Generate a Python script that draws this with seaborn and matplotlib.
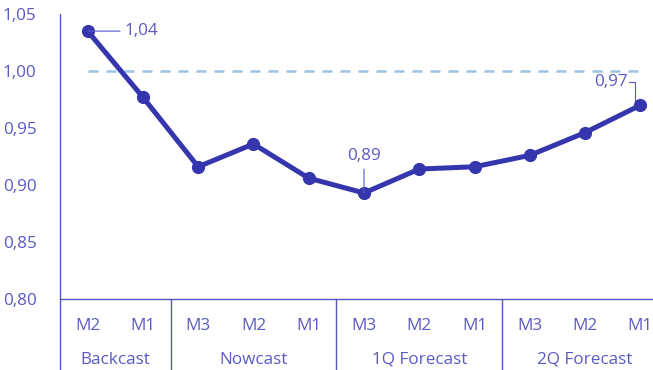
import matplotlib
matplotlib.use("Agg")
import matplotlib.pyplot as plt
import matplotlib.transforms as mtransforms
import seaborn as sns
import pandas as pd
import numpy as np

months = ["M2", "M1", "M3", "M2", "M1", "M3", "M2", "M1", "M3", "M2", "M1"]
groups = ["Backcast", "Nowcast", "1Q Forecast", "2Q Forecast"]
group_sizes = [2, 3, 3, 3]
values = [1.035, 0.977, 0.916, 0.936, 0.906, 0.893, 0.914, 0.916, 0.926, 0.946, 0.970]
yticks = [0.80, 0.85, 0.90, 0.95, 1.00, 1.05]
ytick_labels = ["0,80", "0,85", "0,90", "0,95", "1,00", "1,05"]
ref_value = 1.0

sns.set_theme(style="white")
plt.rcParams["font.family"] = ["Open Sans", "DejaVu Sans"]

line_c = "#3535AE"
text_c = "#5A5AC4"
axis_c = "#5656C0"
ref_c = "#9DC3E6"
fs = 12.3

W, H = 653, 370
fig = plt.figure(figsize=(W / 100, H / 100), dpi=100)
left_px, right_px, top_px, bot_px = 60, 668, 14, 299
ax = fig.add_axes([left_px / W, (H - bot_px) / H, (right_px - left_px) / W, (bot_px - top_px) / H])

df = pd.DataFrame({"x": np.arange(len(values)), "v": values})
sns.lineplot(data=df, x="x", y="v", ax=ax, color=line_c, lw=3.6, marker="o",
             markersize=9.5, markeredgewidth=0, zorder=3)

ax.plot([0, len(values) - 1], [ref_value, ref_value], ls=(0, (4, 3.2)), color=ref_c, lw=1.8, zorder=1)

ax.set_xlim(-0.5, len(values) - 0.5)
ax.set_ylim(0.80, 1.05)
ax.set_yticks(yticks)
ax.set_yticklabels(ytick_labels, color=text_c, fontsize=fs)
ax.tick_params(axis="y", length=0, pad=17)
ax.set_xticks([])
ax.set_xlabel("")
ax.set_ylabel("")
for s in ["top", "right", "left"]:
    ax.spines[s].set_visible(False)
ax.spines["bottom"].set_color(axis_c)
ax.spines["bottom"].set_linewidth(1.0)

trans = mtransforms.blended_transform_factory(ax.transData, fig.transFigure)
# month labels
for i, m in enumerate(months):
    ax.text(i, (H - 326) / H, m, transform=trans, ha="center", va="center",
            color=text_c, fontsize=fs)
# group labels and separators
start = 0
bounds = [-0.5]
for g, n in zip(groups, group_sizes):
    c = start + (n - 1) / 2
    ax.text(c, (H - 360) / H, g, transform=trans, ha="center", va="center",
            color=text_c, fontsize=fs)
    start += n
    bounds.append(start - 0.5)
for b in bounds[:-1]:
    ax.plot([b, b], [0, (H - bot_px) / H], transform=trans, color=axis_c, lw=1.0, clip_on=False)
# left axis line
ax.plot([-0.5, -0.5], [(H - bot_px) / H, (H - top_px) / H], transform=trans,
        color=axis_c, lw=1.0, clip_on=False)

# annotations
ax.annotate("1,04", xy=(0, values[0]), xytext=(0.67, values[0]), color=text_c, fontsize=fs,
            va="center", ha="left",
            arrowprops=dict(arrowstyle="-", color=text_c, lw=0.8, shrinkA=1, shrinkB=0))
ax.annotate("0,89", xy=(5, values[5]), xytext=(5, 0.918), color=text_c, fontsize=fs,
            va="bottom", ha="center",
            arrowprops=dict(arrowstyle="-", color=text_c, lw=0.8, shrinkA=1, shrinkB=0))
ax.text(9.77, 0.990, "0,97", color=text_c, fontsize=fs, va="center", ha="right")
ax.plot([9.8, 9.9, 9.9], [0.990, 0.990, values[10]], color=text_c, lw=0.8)

fig.savefig("out.png", dpi=100)
